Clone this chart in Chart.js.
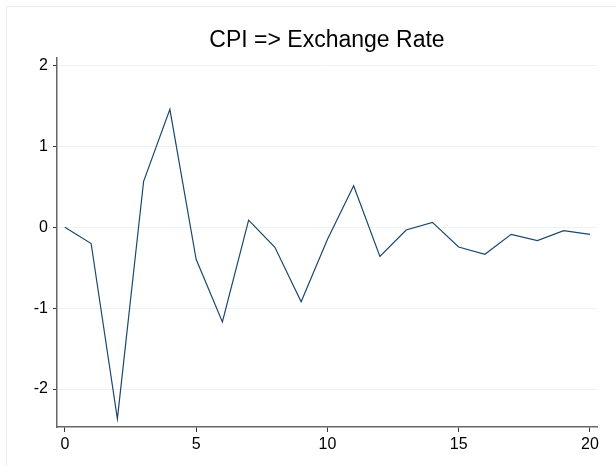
<!DOCTYPE html>
<html>
<head>
<meta charset="utf-8">
<script src="https://cdn.jsdelivr.net/npm/chart.js@4/dist/chart.umd.min.js"></script>
<style>
  html, body { margin: 0; padding: 0; background: #ffffff; }
  #wrap { position: relative; width: 616px; height: 466px; overflow: hidden; }
  #frame { position: absolute; left: 6px; top: 6px; width: 700px; height: 600px; border-left: 1px solid #e6edef; border-top: 1px solid #e6edef; box-sizing: border-box; pointer-events: none; }
  canvas { position: absolute; left: 0; top: 0; }
</style>
</head>
<body>
<div id="wrap">
  <div id="frame"></div>
  <canvas id="c" width="616" height="466"></canvas>
</div>
<script>
const chartTitle = "CPI => Exchange Rate";
const steps = [0,1,2,3,4,5,6,7,8,9,10,11,12,13,14,15,16,17,18,19,20];
const irfValues = [0, -0.20, -2.37, 0.57, 1.46, -0.395, -1.17, 0.09, -0.247, -0.92, -0.15, 0.514, -0.36, -0.033, 0.062, -0.243, -0.333, -0.087, -0.165, -0.042, -0.087];
const xTicks = [0, 5, 10, 15, 20];
const yTicks = [-2, -1, 0, 1, 2];

const FONT = "'Liberation Sans', Arial, sans-serif";

const titlePlugin = {
  id: 'centerTitle',
  afterDraw(chart) {
    const ctx = chart.ctx;
    const a = chart.chartArea;
    ctx.save();
    ctx.fillStyle = '#000000';
    ctx.font = "23px " + FONT;
    ctx.textAlign = 'center';
    ctx.textBaseline = 'alphabetic';
    ctx.fillText(chartTitle, (a.left + a.right) / 2, 47);
    ctx.restore();
  }
};

new Chart(document.getElementById('c'), {
  type: 'line',
  data: {
    datasets: [{
      data: steps.map((s, i) => ({ x: s, y: irfValues[i] })),
      borderColor: '#1a476f',
      borderWidth: 1.2,
      pointRadius: 0,
      tension: 0,
      fill: false
    }]
  },
  options: {
    responsive: false,
    animation: false,
    devicePixelRatio: 1,
    layout: { padding: { top: 58, right: 19, left: 0, bottom: 0 } },
    plugins: { legend: { display: false }, title: { display: false }, tooltip: { enabled: false } },
    scales: {
      x: {
        type: 'linear',
        min: -0.3,
        max: 20.27,
        afterBuildTicks(scale) { scale.ticks = xTicks.map(v => ({ value: v })); },
        afterFit(scale) { scale.height = 39; },
        grid: { drawOnChartArea: false, drawTicks: true, tickLength: 5, tickColor: '#333333', tickWidth: 1 },
        border: { display: true, color: '#666666', width: 1.5 },
        ticks: { color: '#000000', font: { family: FONT, size: 16 }, padding: 3, maxRotation: 0, autoSkip: false }
      },
      y: {
        type: 'linear',
        min: -2.47,
        max: 2.095,
        afterBuildTicks(scale) { scale.ticks = yTicks.map(v => ({ value: v })); },
        afterFit(scale) { scale.width = 57; },
        grid: { drawOnChartArea: true, color: '#eaf2f3', lineWidth: 1, drawTicks: true, tickLength: 4, tickColor: '#333333', tickWidth: 1 },
        border: { display: true, color: '#666666', width: 1.5 },
        ticks: { color: '#000000', font: { family: FONT, size: 16 }, padding: 5, autoSkip: false }
      }
    }
  },
  plugins: [titlePlugin]
});
</script>
</body>
</html>
